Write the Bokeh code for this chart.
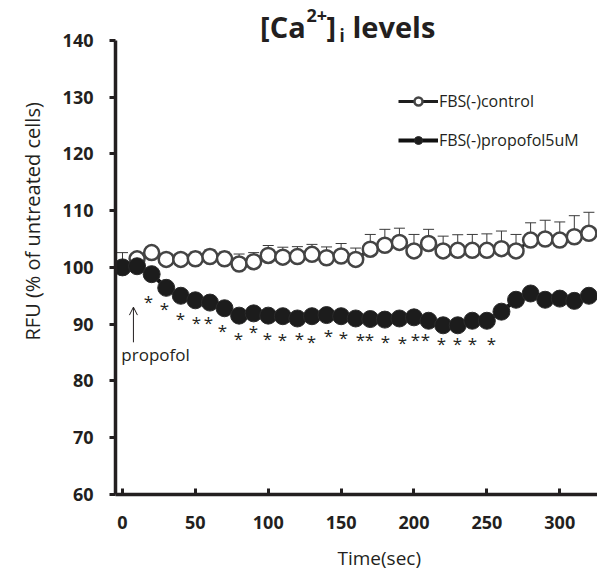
from bokeh.plotting import figure
from bokeh.models import (Whisker, TeeHead, Arrow, OpenHead, Legend, LegendItem,
                          FixedTicker, ColumnDataSource, Range1d, Title)
from bokeh.core.properties import value
from bokeh.embed import file_html
from bokeh.resources import INLINE

# ---------------- data ----------------
time_sec = [0, 10, 20, 30, 40, 50, 60, 70, 80, 90, 100, 110, 120, 130, 140, 150, 160,
            170, 180, 190, 200, 210, 220, 230, 240, 250, 260, 270, 280, 290, 300, 310, 320]
control = [100.0, 101.5, 102.6, 101.4, 101.4, 101.5, 101.9, 101.5, 100.6, 101.0, 102.1,
           101.8, 101.9, 102.3, 101.7, 102.0, 101.4, 103.2, 103.9, 104.4, 102.9, 104.2,
           102.9, 103.0, 103.0, 103.0, 103.3, 102.9, 104.8, 105.0, 104.8, 105.4, 106.0]
control_err = [2.6, 0.8, 0.8, 0.8, 0.8, 1.2, 1.2, 1.2, 1.75, 1.6, 1.75, 1.75, 1.75, 1.75,
               1.9, 2.2, 2.0, 2.6, 2.8, 2.5, 2.9, 2.5, 2.6, 2.75, 2.8, 2.9, 3.1, 2.9, 3.05,
               3.3, 3.2, 3.7, 3.7]
propofol = [100.0, 100.2, 98.8, 96.4, 95.0, 94.2, 93.8, 92.8, 91.5, 91.9, 91.5, 91.4, 91.0,
            91.4, 91.6, 91.4, 91.0, 90.9, 90.8, 91.0, 91.2, 90.6, 89.8, 89.8, 90.6, 90.6,
            92.2, 94.3, 95.4, 94.3, 94.5, 94.1, 95.0]

# significance marks (*) : time, level
star_t = [17.8, 28.8, 39.8, 50.8, 59.0, 68.6, 79.6, 89.9, 99.5, 109.8, 121.4, 129.7,
          141.3, 151.6, 163.3, 169.5, 180.4, 192.1, 201.0, 207.9, 218.9, 229.8, 240.1, 253.2]
star_y = [94.2, 93.0, 91.2, 90.5, 90.5, 89.1, 87.7, 88.8, 87.7, 87.5, 87.7, 87.2,
          88.2, 87.9, 87.5, 87.5, 87.2, 87.0, 87.4, 87.4, 86.8, 86.7, 86.8, 86.7]

y_ticks = [60, 70, 80, 90, 100, 110, 120, 130, 140]
x_ticks = [0, 50, 100, 150, 200, 250, 300]

series_names = ["FBS(-)control", "FBS(-)propofol5uM"]
title_parts = ["[Ca", "2+", "]", "i", "levels"]
y_title = "RFU (% of untreated cells)"
x_title = "Time(sec)"

# propofol arrow (time, from level, to level) and label
arrow_t, arrow_y0, arrow_y1 = 7.5, 86.8, 93.0
label_t, label_y = -0.8, 84.6

INK = "#231f20"

p = figure(width=597, height=581, output_backend="svg", toolbar_location=None,
           x_range=Range1d(-4.8, 325.9), y_range=Range1d(60, 147.0),
           min_border_left=115, min_border_right=0, min_border_top=0, min_border_bottom=85)
p.outline_line_color = None
p.xgrid.visible = False
p.ygrid.visible = False
p.background_fill_color = "white"
p.border_fill_color = "white"

# axes
for ax in (p.xaxis[0], p.yaxis[0]):
    ax.axis_line_color = INK
    ax.axis_line_width = 3.5
    ax.major_tick_line_color = INK
    ax.major_tick_line_width = 3
    ax.minor_tick_line_color = None
    ax.major_label_text_font = "Open Sans"
    ax.major_label_text_font_style = "bold"
    ax.major_label_text_font_size = "18px"
    ax.major_label_text_color = INK

p.yaxis[0].ticker = FixedTicker(ticks=y_ticks)
p.yaxis[0].bounds = (60, 140)
p.yaxis[0].major_tick_out = 6
p.yaxis[0].major_tick_in = 0
p.yaxis[0].major_label_standoff = 16

p.xaxis[0].ticker = FixedTicker(ticks=x_ticks)
p.xaxis[0].major_tick_out = 0
p.xaxis[0].major_tick_in = 6
p.xaxis[0].major_label_standoff = 21

# axis titles as side-panel titles (allow an offset like the original)
ytitle = Title(text=y_title, align="left", offset=154, text_font="Open Sans",
               text_font_style="normal", text_font_size="20px", text_color=INK)
xtitle = Title(text=x_title, align="left", offset=222, text_font="Open Sans",
               text_font_style="normal", text_font_size="19px", text_color=INK)
if "standoff" in Title.properties():
    ytitle.standoff = 28
    xtitle.standoff = 22
p.add_layout(ytitle, "left")
p.add_layout(xtitle, "below")

src = ColumnDataSource(dict(t=time_sec, c=control, cu=[c + e for c, e in zip(control, control_err)],
                            pr=propofol))

# error bars (upper only) for control
wh = Whisker(source=src, base="t", lower="c", upper="cu", dimension="height",
             line_color="#3a3a3a", line_width=1,
             upper_head=TeeHead(size=11, line_color="#3a3a3a", line_width=1), lower_head=None)
p.add_layout(wh)

# control series
cl = p.line("t", "c", source=src, line_color="#1e1e1e", line_width=3)
cm = p.scatter("t", "c", source=src, marker="circle", size=15, fill_color="white",
               line_color="#444444", line_width=2.5)
# propofol series
pl = p.line("t", "pr", source=src, line_color="#111111", line_width=4)
pm = p.scatter("t", "pr", source=src, marker="circle", size=17, fill_color="#1c1c1c",
               line_color="#2a2a2a", line_width=1)

# asterisks
p.text(x=star_t, y=star_y, text=["*"] * len(star_t), text_font=value("Open Sans"),
       text_font_size="17px", text_color=INK, text_align="center", text_baseline="middle",
       y_offset=1)

# arrow + label
p.add_layout(Arrow(x_start=arrow_t, y_start=arrow_y0, x_end=arrow_t, y_end=arrow_y1,
                   line_color=INK, line_width=1,
                   end=OpenHead(size=8, line_color=INK, line_width=1)))
p.text(x=[label_t], y=[label_y], text=["propofol"], text_font=value("Open Sans"),
       text_font_size="17px", text_color=INK, text_align="left", text_baseline="middle")

# title pieces
title_x = [94.4, 126.3, 140.0, 148.9, 157.8]
title_y = [142.45, 144.3, 142.45, 140.85, 142.45]
title_size = ["29px", "18px", "29px", "17px", "29px"]
for txt, tx, ty, ts in zip(title_parts, title_x, title_y, title_size):
    p.text(x=[tx], y=[ty], text=[txt], text_font=value("Open Sans"), text_font_style="bold",
           text_font_size=ts, text_color=INK, text_align="left", text_baseline="alphabetic")

legend = Legend(items=[LegendItem(label=series_names[0], renderers=[cl, cm]),
                       LegendItem(label=series_names[1], renderers=[pl, pm])],
                location=(283, 343), orientation="vertical")
legend.glyph_width = 40
legend.glyph_height = 20
legend.label_height = 20
legend.spacing = 17
legend.padding = 0
legend.margin = 0
legend.label_standoff = 1
legend.border_line_color = None
legend.background_fill_alpha = 0
legend.label_text_font = "Open Sans"
legend.label_text_font_size = "16px"
legend.label_text_color = INK
p.add_layout(legend)

open("out.html", "w").write(file_html(p, INLINE))
